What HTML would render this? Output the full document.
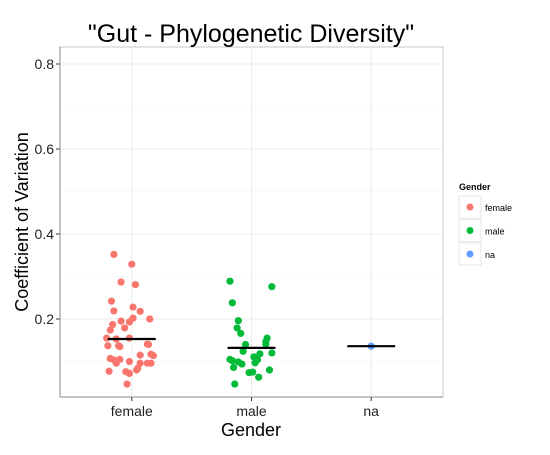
<!DOCTYPE html>
<html><head><meta charset="utf-8"><style>
body{margin:0;background:#fff;font-family:"Liberation Sans",sans-serif}
</style></head><body>
<svg id="c" width="550" height="450" xmlns="http://www.w3.org/2000/svg" font-family="Liberation Sans, sans-serif"></svg>
<script>
const categories=["female","male","na"];
const femaleVals=[0.352,0.329,0.287,0.281,0.242,0.219,0.228,0.218,0.200,0.195,0.193,0.202,0.187,0.174,0.179,0.155,0.153,0.155,0.137,0.137,0.135,0.141,0.140,0.117,0.114,0.115,0.107,0.104,0.105,0.096,0.100,0.096,0.096,0.096,0.080,0.084,0.077,0.076,0.072,0.047];
const femaleJit=[-0.15,0,-0.09,0.03,-0.17,-0.15,0.01,0.07,0.15,-0.09,-0.02,0.01,-0.16,-0.18,-0.06,-0.21,-0.13,-0.02,-0.2,-0.11,-0.1,0.13,0.14,0.16,0.18,0.07,-0.18,-0.15,-0.1,-0.13,-0.02,0.07,0.13,0.16,0.04,0.05,-0.19,-0.05,-0.02,-0.04];
const maleVals=[0.289,0.276,0.238,0.196,0.179,0.166,0.155,0.147,0.141,0.140,0.124,0.120,0.118,0.111,0.104,0.105,0.102,0.099,0.094,0.097,0.086,0.080,0.074,0.075,0.063,0.047];
const maleJit=[-0.18,0.17,-0.16,-0.11,-0.12,-0.09,0.13,0.12,0.12,-0.05,-0.07,0.17,0.07,0.02,0.05,-0.18,-0.16,-0.11,-0.08,0.03,-0.15,0.15,-0.02,0.01,0.06,-0.14];
const naVals=[0.136];
const naJit=[0];
const medians=[0.153,0.132,0.136];
const yTicks=[0.2,0.4,0.6,0.8];
const colors=["#F8766D","#00BA38","#619CFF"];
const L=60,R=443,T=47,B=397;
const x=c=>L+(c+0.6)*(R-L)/3.2;
const y=v=>404-v*425;
const s=document.getElementById('c');const NS="http://www.w3.org/2000/svg";
function mk(t,a,p){const e=document.createElementNS(NS,t);for(const k in a)e.setAttribute(k,a[k]);(p||s).appendChild(e);return e;}
let e=mk('rect',{x:L,y:T,width:R-L,height:B-T,fill:'#fff',stroke:'#c8c8c8','stroke-width':1});

[0.1,0.3,0.5,0.7].forEach(v=>{mk('line',{x1:L,x2:R,y1:y(v),y2:y(v),stroke:'#f4f4f4','stroke-width':0.6});});
yTicks.forEach(v=>{
 e=mk('line',{x1:L,x2:R,y1:y(v),y2:y(v),stroke:'#ebebeb','stroke-width':1});
 mk('line',{x1:L-4,x2:L,y1:y(v),y2:y(v),stroke:'#333'});
 e=mk('text',{x:L-6,y:y(v)+5,'text-anchor':'end','font-size':14,fill:'#222'});e.textContent=v.toFixed(1);
 
});
mk('line',{x1:L,x2:L,y1:T,y2:B,stroke:'#888'});
mk('line',{x1:L,x2:R,y1:B,y2:B,stroke:'#888'});
categories.forEach((c,i)=>{
 e=mk('line',{x1:x(i),x2:x(i),y1:T,y2:B,stroke:'#ebebeb'});
 mk('line',{x1:x(i),x2:x(i),y1:B,y2:B+4,stroke:'#333'});
 e=mk('text',{x:x(i),y:B+19,'text-anchor':'middle','font-size':14,fill:'#222'});e.textContent=c;
 
});
const series=[[femaleVals,femaleJit],[maleVals,maleJit],[naVals,naJit]];
series.forEach((sr,i)=>{sr[0].forEach((v,j)=>{
 e=mk('circle',{cx:x(i+sr[1][j]),cy:y(v),r:3.6,fill:colors[i]});
 
});});
medians.forEach((m,i)=>{
 e=mk('line',{x1:x(i-0.2),x2:x(i+0.2),y1:y(m),y2:y(m),stroke:'#000','stroke-width':2.2});
 
});
e=mk('text',{x:251,y:42,'text-anchor':'middle','font-size':25,fill:'#000'});e.textContent='"Gut - Phylogenetic Diversity"';

e=mk('text',{x:251,y:436,'text-anchor':'middle','font-size':18,fill:'#000'});e.textContent='Gender';

e=mk('text',{x:0,y:0,transform:'translate(28,222) rotate(-90)','text-anchor':'middle','font-size':18,fill:'#000'});e.textContent='Coefficient of Variation';

const lg=mk('g',{});
e=mk('text',{x:459,y:190,'font-size':9,'font-weight':'bold',fill:'#000'},lg);e.textContent='Gender';
categories.forEach((c,i)=>{
 const yy=196+i*23.5;
 const g=mk('g',{},lg);
 mk('rect',{x:459,y:yy,width:22,height:22,fill:'#fff',stroke:'#e0e0e0','stroke-width':0.8},g);
 mk('circle',{cx:470,cy:yy+11,r:3.5,fill:colors[i]},g);
 const t=mk('text',{x:485,y:yy+15,'font-size':9,fill:'#000'},g);t.textContent=c;
});
</script>
</body></html>
